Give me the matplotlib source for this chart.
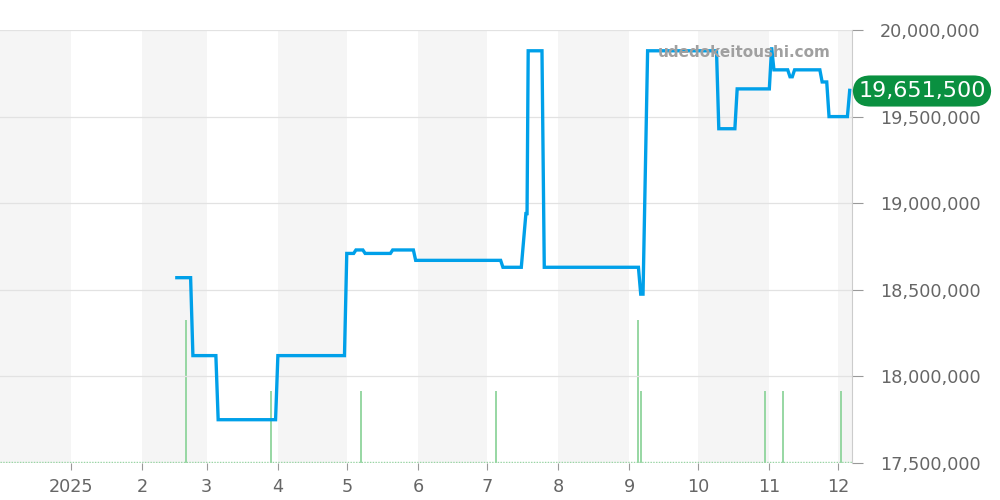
import matplotlib
matplotlib.use("Agg")
import matplotlib.pyplot as plt
import pandas as pd

# price history (date, yen)
price_dates = [
    "2025-02-16", "2025-02-22", "2025-02-23", "2025-03-05", "2025-03-06",
    "2025-03-31", "2025-04-01", "2025-04-30", "2025-05-01", "2025-05-04",
    "2025-05-05", "2025-05-08", "2025-05-09", "2025-05-20", "2025-05-21",
    "2025-05-30", "2025-05-31", "2025-07-07", "2025-07-08", "2025-07-16",
    "2025-07-18", "2025-07-18 12:00", "2025-07-19", "2025-07-25", "2025-07-26",
    "2025-09-05", "2025-09-06", "2025-09-07", "2025-09-09", "2025-10-09",
    "2025-10-10", "2025-10-17", "2025-10-18", "2025-11-01", "2025-11-02",
    "2025-11-03", "2025-11-09", "2025-11-10", "2025-11-11", "2025-11-12",
    "2025-11-23", "2025-11-24", "2025-11-26", "2025-11-27", "2025-12-05",
    "2025-12-06",
]
prices = [
    18570000, 18570000, 18120000, 18120000, 17750000,
    17750000, 18120000, 18120000, 18710000, 18710000,
    18730000, 18730000, 18710000, 18710000, 18730000,
    18730000, 18670000, 18670000, 18630000, 18630000,
    18940000, 18940000, 19880000, 19880000, 18630000,
    18630000, 18475000, 18475000, 19880000, 19880000,
    19430000, 19430000, 19660000, 19660000, 19900000,
    19770000, 19770000, 19730000, 19730000, 19770000,
    19770000, 19700000, 19700000, 19500000, 19500000,
    19651500,
]

# trade volume
volume_dates = [
    "2025-02-20", "2025-03-29", "2025-05-07", "2025-07-05", "2025-09-05",
    "2025-09-06", "2025-10-30", "2025-11-07", "2025-12-02",
]
volumes = [2, 1, 1, 1, 2, 1, 1, 1, 1]

month_labels = ["2025", "2", "3", "4", "5", "6", "7", "8", "9", "10", "11", "12"]
last_price_label = "19,651,500"
watermark = "udedokeitoushi.com"

BLUE = "#00a0e9"
GREEN_VOL = "#8fd49c"
GRAY_TXT = "#666666"

fig = plt.figure(figsize=(10, 5), dpi=100)
ax = fig.add_axes([0.0, 0.074, 0.852, 0.866])
axv = ax.twinx()
ax.set_zorder(axv.get_zorder() + 1)
ax.patch.set_visible(False)

x_start = pd.Timestamp("2024-12-01")
x_end = pd.Timestamp("2025-12-07")

# alternating month shading (on the back axis)
months = pd.date_range("2024-12-01", "2026-01-01", freq="MS")
for i in range(len(months) - 1):
    if i % 2 == 0:
        axv.axvspan(months[i], months[i + 1], color="#f5f5f5", lw=0, zorder=0)

# volume bars
vd = pd.to_datetime(volume_dates)
axv.vlines(vd, 0, volumes, color=GREEN_VOL, lw=1.3, zorder=1)
axv.plot([x_start, x_end], [0.01, 0.01], color=GREEN_VOL, lw=1, ls=(0, (1, 1)))
axv.set_ylim(0, 6.05)
axv.set_yticks([])
for s in axv.spines.values():
    s.set_visible(False)

# price line
pdates = pd.to_datetime(price_dates, format="mixed")
ax.plot(pdates, prices, color=BLUE, lw=2.4, solid_joinstyle="miter", zorder=3)

ax.set_xlim(x_start, x_end)
axv.set_xlim(x_start, x_end)
ax.set_ylim(17500000, 20000000)

ax.yaxis.tick_right()
ax.set_yticks([17500000, 18000000, 18500000, 19000000, 19500000, 20000000])
ax.yaxis.set_major_formatter(matplotlib.ticker.FuncFormatter(lambda v, _: f"{int(v):,}"))
ax.grid(axis="y", color="#e2e2e2", lw=0.9)
ax.tick_params(axis="y", length=8, color="#999999", labelcolor=GRAY_TXT,
               labelsize=12.7, pad=12)

tick_months = pd.date_range("2025-01-01", "2025-12-01", freq="MS")
ax.set_xticks(tick_months)
ax.set_xticklabels(month_labels)
ax.tick_params(axis="x", length=5, color="#999999", labelcolor=GRAY_TXT,
               labelsize=12.7, pad=6)

for name in ["top", "left", "bottom"]:
    ax.spines[name].set_visible(False)
ax.spines["right"].set_color("#cccccc")

ax.text(0.975, 0.948, watermark, transform=ax.transAxes, ha="right", va="center",
        fontsize=11, fontweight="bold", color="#a0a0a0", zorder=4)

fig.text(0.922, 1 - 91 / 500, last_price_label, ha="center", va="center",
         fontsize=16, color="white",
         bbox=dict(boxstyle="round,pad=0.25,rounding_size=0.8", fc="#0a9040", ec="none"))

fig.savefig("out.png", dpi=100)
